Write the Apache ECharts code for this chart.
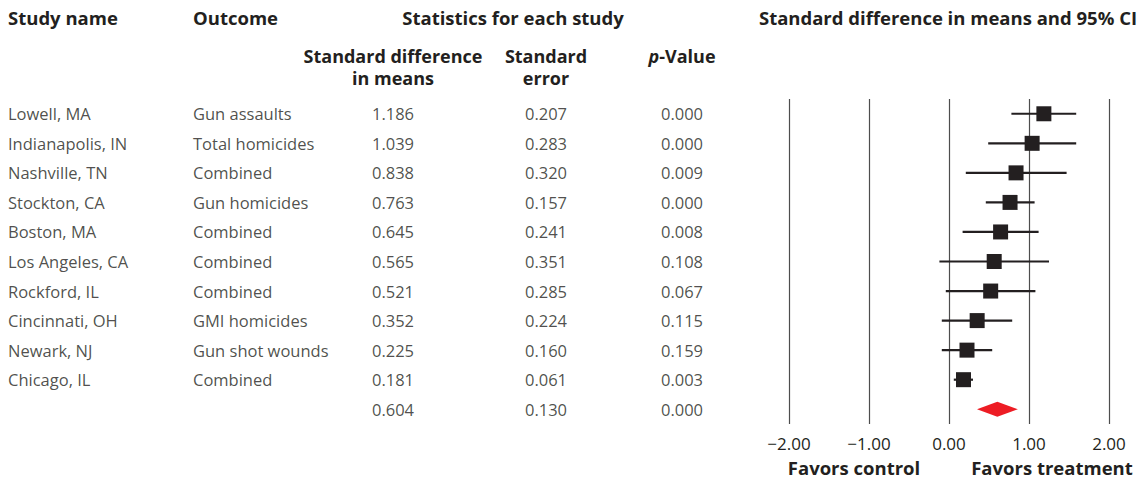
<!DOCTYPE html>
<html>
<head>
<meta charset="utf-8">
<script src="https://cdn.jsdelivr.net/npm/echarts@6/dist/echarts.min.js"></script>
<style>
html,body{margin:0;padding:0;background:#fff;}
#chart{width:1146px;height:479px;}
</style>
</head>
<body>
<div id="chart"></div>
<script>
// ---- data ----
const studies = ['Lowell, MA','Indianapolis, IN','Nashville, TN','Stockton, CA','Boston, MA','Los Angeles, CA','Rockford, IL','Cincinnati, OH','Newark, NJ','Chicago, IL',''];
const outcomes = ['Gun assaults','Total homicides','Combined','Gun homicides','Combined','Combined','Combined','GMI homicides','Gun shot wounds','Combined',''];
const stdDiff = [1.186,1.039,0.838,0.763,0.645,0.565,0.521,0.352,0.225,0.181,0.604];
const stdErr = [0.207,0.283,0.320,0.157,0.241,0.351,0.285,0.224,0.160,0.061,0.130];
const pValue = [0.000,0.000,0.009,0.000,0.008,0.108,0.067,0.115,0.159,0.003,0.000];
const ciLower = [0.78,0.49,0.21,0.46,0.17,-0.12,-0.04,-0.09,-0.09,0.06,0.35];
const ciUpper = [1.59,1.59,1.47,1.07,1.12,1.25,1.08,0.79,0.54,0.30,0.86];
const tickLabels = ['\u22122.00','\u22121.00','0.00','1.00','2.00'];
const axisMin = -2, axisMax = 2, axisStep = 1;

const FONT = 'Open Sans';
const INK = '#231f20';
const HEAD = 'bold 18.5px "' + FONT + '"';
const SUB = 'bold 18px "' + FONT + '"';
const nStudies = 10;
const rowIdx = studies.map((_, i) => i);

function fmt3(v){ return v.toFixed(3); }

const chart = echarts.init(document.getElementById('chart'), null, {renderer:'svg'});

const tableCols = [
  {x: 8,   vals: studies,  align:'left'},
  {x: 193, vals: outcomes, align:'left'},
  {x: 393, vals: stdDiff.map(fmt3), align:'center'},
  {x: 546, vals: stdErr.map(fmt3), align:'center'},
  {x: 682, vals: pValue.map(fmt3), align:'center'}
];

const tableSeries = tableCols.map(col => ({
  type:'scatter', xAxisIndex:1, yAxisIndex:1, symbolSize:0, silent:true,
  data: rowIdx.map(i => ({value:[col.x, i], name: String(col.vals[i])})),
  label:{show:true, position: col.align==='left' ? 'right' : 'inside', distance:0,
    formatter: p => p.name, color: INK, fontFamily: FONT, fontSize:16.5,
    align: col.align, verticalAlign:'middle'}
}));

function head(x, y, text, font){
  return {type:'text', x:x, y:y, style:{text:text, font:font || HEAD, fill:INK, align:'center', verticalAlign:'middle'}};
}

const option = {
  animation:false,
  backgroundColor:'#fff',
  grid:[
    {left:789, right:37, top:99, height:325},
    {left:0, width:760, top:99, height:325}
  ],
  xAxis:[
    {type:'value', gridIndex:0, min:axisMin, max:axisMax, interval:axisStep,
     axisLine:{show:false}, axisTick:{show:false},
     splitLine:{show:true, lineStyle:{color:'#4d4d4d', width:1.2}},
     axisLabel:{margin:11, color:INK, fontFamily:FONT, fontSize:17,
       formatter: v => tickLabels[Math.round((v-axisMin)/axisStep)]}},
    {type:'value', gridIndex:1, min:0, max:760, show:false}
  ],
  yAxis:[
    {type:'category', gridIndex:0, data:rowIdx, inverse:true, show:false},
    {type:'category', gridIndex:1, data:rowIdx, inverse:true, show:false}
  ],
  series:[
    {
      type:'custom', xAxisIndex:0, yAxisIndex:0, silent:true,
      data: rowIdx.slice(0,nStudies).map(i => [ciLower[i], ciUpper[i], i]),
      renderItem:(params, api) => {
        const a = api.coord([api.value(0), api.value(2)]);
        const b = api.coord([api.value(1), api.value(2)]);
        return {type:'line', shape:{x1:a[0], y1:a[1], x2:b[0], y2:b[1]},
          style:{stroke:INK, lineWidth:2.2}};
      }
    },
    {
      type:'scatter', xAxisIndex:0, yAxisIndex:0, silent:true,
      symbol:'rect', symbolSize:15,
      itemStyle:{color:INK, opacity:1},
      data: rowIdx.slice(0,nStudies).map(i => [stdDiff[i], i])
    },
    {
      type:'custom', xAxisIndex:0, yAxisIndex:0, silent:true,
      data: [[ciLower[nStudies], stdDiff[nStudies], ciUpper[nStudies], nStudies]],
      renderItem:(params, api) => {
        const l = api.coord([api.value(0), api.value(3)]);
        const m = api.coord([api.value(1), api.value(3)]);
        const r = api.coord([api.value(2), api.value(3)]);
        const h = 7.5;
        return {type:'polygon', shape:{points:[[l[0],l[1]],[m[0],m[1]-h],[r[0],r[1]],[m[0],m[1]+h]]},
          style:{fill:'#ed1c24'}};
      }
    }
  ].concat(tableSeries),
  graphic:[
    {type:'text', x:8, y:17, style:{text:'Study name', font:HEAD, fill:INK, align:'left', verticalAlign:'middle'}},
    {type:'text', x:193, y:17, style:{text:'Outcome', font:HEAD, fill:INK, align:'left', verticalAlign:'middle'}},
    head(513, 17, 'Statistics for each study'),
    head(948, 17, 'Standard difference in means and 95% CI'),
    head(393, 56, 'Standard difference', SUB),
    head(393, 78, 'in means', SUB),
    head(546, 56, 'Standard', SUB),
    head(546, 78, 'error', SUB),
    {type:'text', x:682, y:56, style:{
      text:'{i|p}{b|-Value}', align:'center', verticalAlign:'middle',
      rich:{i:{font:'italic bold 18px "'+FONT+'"', fill:INK, color:INK}, b:{font:SUB, fill:INK, color:INK}}}},
    head(854, 467, 'Favors control'),
    head(1052, 467, 'Favors treatment')
  ]
};
chart.setOption(option);
</script>
</body>
</html>
